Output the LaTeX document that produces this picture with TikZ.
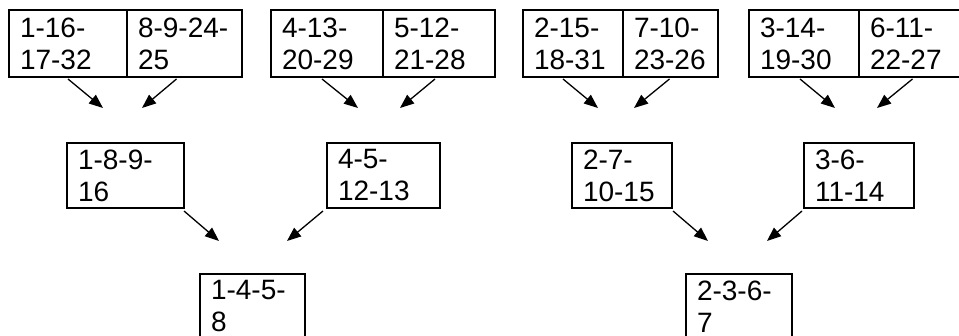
\documentclass[tikz,border=0pt]{standalone}
\usepackage{fontspec}
\setmainfont{Liberation Sans}
\usetikzlibrary{arrows.meta,positioning}
\tikzset{
	cell/.style={draw, line width=1.3pt, anchor=north west, outer sep=0pt, inner xsep=11pt, inner ysep=0pt,
		text width=#1, minimum height=65pt, align=left, font=\fontsize{28pt}{32pt}\selectfont},
	toprow/.style={minimum height=67pt},
	link/.style={line width=1.3pt, -{Triangle[length=14pt,width=11pt]}}
}

\begin{document}
\begin{tikzpicture}[x=1pt, y=-1pt]
			%%%%% START %%%%%
			
			\path[use as bounding box, fill=white] (0, 0) rectangle (959, 336);
			
			% first row
			\node[cell=96pt, toprow] (b1a) at (9, 10) {1-16-\\17-32};
			\node[cell=93pt, toprow] (b1b) at (b1a.north east) {8-9-24-\\25};
			\node[cell=90pt, toprow] (b2a) at (271, 10) {4-13-\\20-29};
			\node[cell=90pt, toprow] (b2b) at (b2a.north east) {5-12-\\21-28};
			\node[cell=78pt, toprow] (b3a) at (523, 10) {2-15-\\18-31};
			\node[cell=73pt, toprow] (b3b) at (b3a.north east) {7-10-\\23-26};
			\node[cell=88pt, toprow] (b4a) at (749, 10) {3-14-\\19-30};
			\node[cell=89pt, toprow] (b4b) at (b4a.north east) {6-11-\\22-27};
			
			% second row
			\node[cell=95pt] (m1) at (67, 143) {1-8-9-\\16};
			\node[cell=91pt] (m2) at (327, 143) {4-5-\\12-13};
			\node[cell=78pt] (m3) at (572, 143) {2-7-\\10-15};
			\node[cell=88pt] (m4) at (804, 143) {3-6-\\11-14};
			
			% last row
			\node[cell=83pt] (f1) at (200, 274) {1-4-5-\\8};
			\node[cell=84pt] (f2) at (686, 274) {2-3-6-\\7};
			
			% arrow tips
			\coordinate (t1a) at (103, 108);
			\coordinate (t1b) at (142, 108);
			\coordinate (t2a) at (358, 108);
			\coordinate (t2b) at (400, 108);
			\coordinate (t3a) at (598, 108);
			\coordinate (t3b) at (634, 108);
			\coordinate (t4a) at (835, 108);
			\coordinate (t4b) at (877, 108);
			\coordinate (s1) at (219, 241);
			\coordinate (s2) at (287, 241);
			\coordinate (s3) at (708, 241);
			\coordinate (s4) at (767, 241);
			
			\draw[link] ([yshift=-2pt]b1a.south) -- (t1a);
			\draw[link] ([xshift=-8pt, yshift=-2pt]b1b.south) -- (t1b);
			\draw[link] ([xshift=-5pt, yshift=-2pt]b2a.south) -- (t2a);
			\draw[link] ([xshift=-4pt, yshift=-2pt]b2b.south) -- (t2b);
			\draw[link] ([xshift=-10pt, yshift=-2pt]b3a.south) -- (t3a);
			\draw[link] ([xshift=-1pt, yshift=-2pt]b3b.south) -- (t3b);
			\draw[link] ([xshift=-4pt, yshift=-2pt]b4a.south) -- (t4a);
			\draw[link] ([xshift=-2pt, yshift=-2pt]b4b.south) -- (t4b);
			
			\draw[link] ([yshift=-3pt]m1.south east) -- (s1);
			\draw[link] ([xshift=-4pt, yshift=-3pt]m2.south west) -- (s2);
			\draw[link] ([xshift=1pt, yshift=-3pt]m3.south east) -- (s3);
			\draw[link] ([xshift=-2pt, yshift=-3pt]m4.south west) -- (s4);
			
			%%%%% END %%%%%
\end{tikzpicture}
\end{document}
